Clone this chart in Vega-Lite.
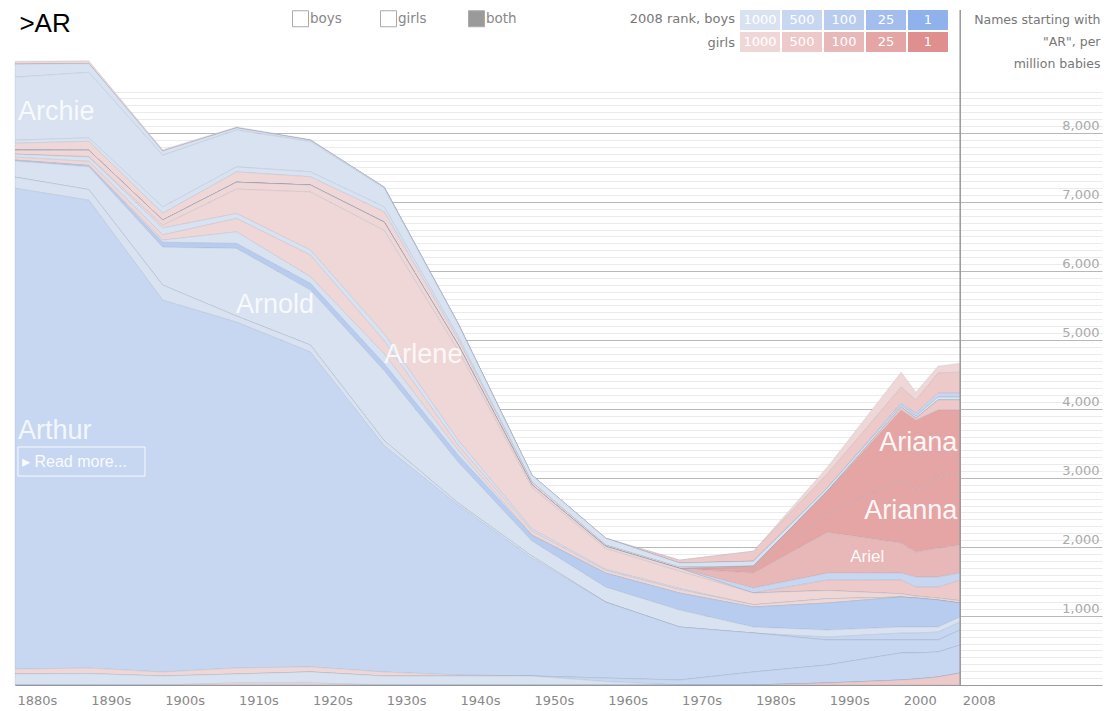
{
"$schema": "https://vega.github.io/schema/vega-lite/v6.json",
"width": 1087, "height": 624,
"autosize": {"type": "none"},
"padding": {"left": 15, "top": 61, "right": 9, "bottom": 26},
"background": "white",
"config": {"view": {"stroke": null}, "font": "DejaVu Sans"},
"resolve": {"axis": {"y": "independent", "x": "independent"}},
"layer": [
{
"data": {"values": [
{"n":"Arabella","t":"F1000","yr":1880,"v":43},{"n":"Arabella","t":"F1000","yr":1890,"v":40},{"n":"Arabella","t":"F1000","yr":1900,"v":20},{"n":"Arabella","t":"F1000","yr":1910,"v":15},{"n":"Arabella","t":"F1000","yr":1920,"v":10},{"n":"Arabella","t":"F1000","yr":1930,"v":5},{"n":"Arabella","t":"F1000","yr":1940,"v":0},{"n":"Arabella","t":"F1000","yr":1950,"v":0},{"n":"Arabella","t":"F1000","yr":1960,"v":0},{"n":"Arabella","t":"F1000","yr":1970,"v":0},{"n":"Arabella","t":"F1000","yr":1980,"v":0},{"n":"Arabella","t":"F1000","yr":1990,"v":100},{"n":"Arabella","t":"F1000","yr":2000,"v":217},{"n":"Arabella","t":"F1000","yr":2002,"v":116},{"n":"Arabella","t":"F1000","yr":2005,"v":101},{"n":"Arabella","t":"F1000","yr":2008,"v":130},
{"n":"Araceli","t":"F500","yr":1880,"v":0},{"n":"Araceli","t":"F500","yr":1890,"v":0},{"n":"Araceli","t":"F500","yr":1900,"v":0},{"n":"Araceli","t":"F500","yr":1910,"v":0},{"n":"Araceli","t":"F500","yr":1920,"v":0},{"n":"Araceli","t":"F500","yr":1930,"v":0},{"n":"Araceli","t":"F500","yr":1940,"v":0},{"n":"Araceli","t":"F500","yr":1950,"v":0},{"n":"Araceli","t":"F500","yr":1960,"v":0},{"n":"Araceli","t":"F500","yr":1970,"v":43},{"n":"Araceli","t":"F500","yr":1980,"v":145},{"n":"Araceli","t":"F500","yr":1990,"v":200},{"n":"Araceli","t":"F500","yr":2000,"v":232},{"n":"Araceli","t":"F500","yr":2002,"v":188},{"n":"Araceli","t":"F500","yr":2005,"v":290},{"n":"Araceli","t":"F500","yr":2008,"v":304},
{"n":"Archer","t":"M500","yr":1880,"v":0},{"n":"Archer","t":"M500","yr":1890,"v":0},{"n":"Archer","t":"M500","yr":1900,"v":0},{"n":"Archer","t":"M500","yr":1910,"v":0},{"n":"Archer","t":"M500","yr":1920,"v":0},{"n":"Archer","t":"M500","yr":1930,"v":0},{"n":"Archer","t":"M500","yr":1940,"v":0},{"n":"Archer","t":"M500","yr":1950,"v":0},{"n":"Archer","t":"M500","yr":1960,"v":0},{"n":"Archer","t":"M500","yr":1970,"v":0},{"n":"Archer","t":"M500","yr":1980,"v":0},{"n":"Archer","t":"M500","yr":1990,"v":0},{"n":"Archer","t":"M500","yr":2000,"v":29},{"n":"Archer","t":"M500","yr":2002,"v":43},{"n":"Archer","t":"M500","yr":2005,"v":58},{"n":"Archer","t":"M500","yr":2008,"v":58},
{"n":"Archibald","t":"M1000","yr":1880,"v":188},{"n":"Archibald","t":"M1000","yr":1890,"v":126},{"n":"Archibald","t":"M1000","yr":1900,"v":60},{"n":"Archibald","t":"M1000","yr":1910,"v":30},{"n":"Archibald","t":"M1000","yr":1920,"v":20},{"n":"Archibald","t":"M1000","yr":1930,"v":15},{"n":"Archibald","t":"M1000","yr":1940,"v":10},{"n":"Archibald","t":"M1000","yr":1950,"v":0},{"n":"Archibald","t":"M1000","yr":1960,"v":0},{"n":"Archibald","t":"M1000","yr":1970,"v":0},{"n":"Archibald","t":"M1000","yr":1980,"v":0},{"n":"Archibald","t":"M1000","yr":1990,"v":0},{"n":"Archibald","t":"M1000","yr":2000,"v":0},{"n":"Archibald","t":"M1000","yr":2002,"v":0},{"n":"Archibald","t":"M1000","yr":2005,"v":0},{"n":"Archibald","t":"M1000","yr":2008,"v":0},
{"n":"Archie","t":"M1000","yr":1880,"v":913},{"n":"Archie","t":"M1000","yr":1890,"v":950},{"n":"Archie","t":"M1000","yr":1900,"v":750},{"n":"Archie","t":"M1000","yr":1910,"v":535},{"n":"Archie","t":"M1000","yr":1920,"v":439},{"n":"Archie","t":"M1000","yr":1930,"v":270},{"n":"Archie","t":"M1000","yr":1940,"v":178},{"n":"Archie","t":"M1000","yr":1950,"v":101},{"n":"Archie","t":"M1000","yr":1960,"v":100},{"n":"Archie","t":"M1000","yr":1970,"v":58},{"n":"Archie","t":"M1000","yr":1980,"v":72},{"n":"Archie","t":"M1000","yr":1990,"v":48},{"n":"Archie","t":"M1000","yr":2000,"v":29},{"n":"Archie","t":"M1000","yr":2002,"v":29},{"n":"Archie","t":"M1000","yr":2005,"v":43},{"n":"Archie","t":"M1000","yr":2008,"v":43},
{"n":"Arden","t":"M1000","yr":1880,"v":45},{"n":"Arden","t":"M1000","yr":1890,"v":50},{"n":"Arden","t":"M1000","yr":1900,"v":90},{"n":"Arden","t":"M1000","yr":1910,"v":72},{"n":"Arden","t":"M1000","yr":1920,"v":72},{"n":"Arden","t":"M1000","yr":1930,"v":72},{"n":"Arden","t":"M1000","yr":1940,"v":43},{"n":"Arden","t":"M1000","yr":1950,"v":0},{"n":"Arden","t":"M1000","yr":1960,"v":0},{"n":"Arden","t":"M1000","yr":1970,"v":0},{"n":"Arden","t":"M1000","yr":1980,"v":0},{"n":"Arden","t":"M1000","yr":1990,"v":0},{"n":"Arden","t":"M1000","yr":2000,"v":0},{"n":"Arden","t":"M1000","yr":2002,"v":0},{"n":"Arden","t":"M1000","yr":2005,"v":0},{"n":"Arden","t":"M1000","yr":2008,"v":0},
{"n":"Ardith","t":"F1000","yr":1880,"v":100},{"n":"Ardith","t":"F1000","yr":1890,"v":130},{"n":"Ardith","t":"F1000","yr":1900,"v":100},{"n":"Ardith","t":"F1000","yr":1910,"v":150},{"n":"Ardith","t":"F1000","yr":1920,"v":120},{"n":"Ardith","t":"F1000","yr":1930,"v":150},{"n":"Ardith","t":"F1000","yr":1940,"v":80},{"n":"Ardith","t":"F1000","yr":1950,"v":40},{"n":"Ardith","t":"F1000","yr":1960,"v":20},{"n":"Ardith","t":"F1000","yr":1970,"v":20},{"n":"Ardith","t":"F1000","yr":1980,"v":0},{"n":"Ardith","t":"F1000","yr":1990,"v":0},{"n":"Ardith","t":"F1000","yr":2000,"v":0},{"n":"Ardith","t":"F1000","yr":2002,"v":0},{"n":"Ardith","t":"F1000","yr":2005,"v":0},{"n":"Ardith","t":"F1000","yr":2008,"v":0},
{"n":"Aria","t":"F500","yr":1880,"v":0},{"n":"Aria","t":"F500","yr":1890,"v":0},{"n":"Aria","t":"F500","yr":1900,"v":0},{"n":"Aria","t":"F500","yr":1910,"v":0},{"n":"Aria","t":"F500","yr":1920,"v":0},{"n":"Aria","t":"F500","yr":1930,"v":0},{"n":"Aria","t":"F500","yr":1940,"v":0},{"n":"Aria","t":"F500","yr":1950,"v":0},{"n":"Aria","t":"F500","yr":1960,"v":0},{"n":"Aria","t":"F500","yr":1970,"v":0},{"n":"Aria","t":"F500","yr":1980,"v":0},{"n":"Aria","t":"F500","yr":1990,"v":0},{"n":"Aria","t":"F500","yr":2000,"v":43},{"n":"Aria","t":"F500","yr":2002,"v":29},{"n":"Aria","t":"F500","yr":2005,"v":145},{"n":"Aria","t":"F500","yr":2008,"v":145},
{"n":"Ariana","t":"F25","yr":1880,"v":0},{"n":"Ariana","t":"F25","yr":1890,"v":0},{"n":"Ariana","t":"F25","yr":1900,"v":0},{"n":"Ariana","t":"F25","yr":1910,"v":0},{"n":"Ariana","t":"F25","yr":1920,"v":0},{"n":"Ariana","t":"F25","yr":1930,"v":0},{"n":"Ariana","t":"F25","yr":1940,"v":0},{"n":"Ariana","t":"F25","yr":1950,"v":0},{"n":"Ariana","t":"F25","yr":1960,"v":0},{"n":"Ariana","t":"F25","yr":1970,"v":0},{"n":"Ariana","t":"F25","yr":1980,"v":50},{"n":"Ariana","t":"F25","yr":1990,"v":319},{"n":"Ariana","t":"F25","yr":2000,"v":1014},{"n":"Ariana","t":"F25","yr":2002,"v":1014},{"n":"Ariana","t":"F25","yr":2005,"v":971},{"n":"Ariana","t":"F25","yr":2008,"v":913},
{"n":"Arianna","t":"F25","yr":1880,"v":0},{"n":"Arianna","t":"F25","yr":1890,"v":0},{"n":"Arianna","t":"F25","yr":1900,"v":0},{"n":"Arianna","t":"F25","yr":1910,"v":0},{"n":"Arianna","t":"F25","yr":1920,"v":0},{"n":"Arianna","t":"F25","yr":1930,"v":0},{"n":"Arianna","t":"F25","yr":1940,"v":0},{"n":"Arianna","t":"F25","yr":1950,"v":0},{"n":"Arianna","t":"F25","yr":1960,"v":0},{"n":"Arianna","t":"F25","yr":1970,"v":0},{"n":"Arianna","t":"F25","yr":1980,"v":50},{"n":"Arianna","t":"F25","yr":1990,"v":275},{"n":"Arianna","t":"F25","yr":2000,"v":913},{"n":"Arianna","t":"F25","yr":2002,"v":898},{"n":"Arianna","t":"F25","yr":2005,"v":1029},{"n":"Arianna","t":"F25","yr":2008,"v":1043},
{"n":"Ariel","t":"F100","yr":1880,"v":0},{"n":"Ariel","t":"F100","yr":1890,"v":0},{"n":"Ariel","t":"F100","yr":1900,"v":0},{"n":"Ariel","t":"F100","yr":1910,"v":0},{"n":"Ariel","t":"F100","yr":1920,"v":0},{"n":"Ariel","t":"F100","yr":1930,"v":0},{"n":"Ariel","t":"F100","yr":1940,"v":0},{"n":"Ariel","t":"F100","yr":1950,"v":0},{"n":"Ariel","t":"F100","yr":1960,"v":0},{"n":"Ariel","t":"F100","yr":1970,"v":0},{"n":"Ariel","t":"F100","yr":1980,"v":217},{"n":"Ariel","t":"F100","yr":1990,"v":594},{"n":"Ariel","t":"F100","yr":2000,"v":435},{"n":"Ariel","t":"F100","yr":2002,"v":362},{"n":"Ariel","t":"F100","yr":2005,"v":420},{"n":"Ariel","t":"F100","yr":2008,"v":406},
{"n":"Ariel (boy)","t":"M500","yr":1880,"v":0},{"n":"Ariel (boy)","t":"M500","yr":1890,"v":0},{"n":"Ariel (boy)","t":"M500","yr":1900,"v":0},{"n":"Ariel (boy)","t":"M500","yr":1910,"v":0},{"n":"Ariel (boy)","t":"M500","yr":1920,"v":0},{"n":"Ariel (boy)","t":"M500","yr":1930,"v":0},{"n":"Ariel (boy)","t":"M500","yr":1940,"v":0},{"n":"Ariel (boy)","t":"M500","yr":1950,"v":0},{"n":"Ariel (boy)","t":"M500","yr":1960,"v":0},{"n":"Ariel (boy)","t":"M500","yr":1970,"v":0},{"n":"Ariel (boy)","t":"M500","yr":1980,"v":72},{"n":"Ariel (boy)","t":"M500","yr":1990,"v":101},{"n":"Ariel (boy)","t":"M500","yr":2000,"v":101},{"n":"Ariel (boy)","t":"M500","yr":2002,"v":145},{"n":"Ariel (boy)","t":"M500","yr":2005,"v":145},{"n":"Ariel (boy)","t":"M500","yr":2008,"v":101},
{"n":"Arielle","t":"F500","yr":1880,"v":0},{"n":"Arielle","t":"F500","yr":1890,"v":0},{"n":"Arielle","t":"F500","yr":1900,"v":0},{"n":"Arielle","t":"F500","yr":1910,"v":0},{"n":"Arielle","t":"F500","yr":1920,"v":0},{"n":"Arielle","t":"F500","yr":1930,"v":0},{"n":"Arielle","t":"F500","yr":1940,"v":0},{"n":"Arielle","t":"F500","yr":1950,"v":0},{"n":"Arielle","t":"F500","yr":1960,"v":0},{"n":"Arielle","t":"F500","yr":1970,"v":0},{"n":"Arielle","t":"F500","yr":1980,"v":0},{"n":"Arielle","t":"F500","yr":1990,"v":150},{"n":"Arielle","t":"F500","yr":2000,"v":200},{"n":"Arielle","t":"F500","yr":2002,"v":130},{"n":"Arielle","t":"F500","yr":2005,"v":160},{"n":"Arielle","t":"F500","yr":2008,"v":300},
{"n":"Arla","t":"F1000","yr":1880,"v":58},{"n":"Arla","t":"F1000","yr":1890,"v":90},{"n":"Arla","t":"F1000","yr":1900,"v":74},{"n":"Arla","t":"F1000","yr":1910,"v":100},{"n":"Arla","t":"F1000","yr":1920,"v":100},{"n":"Arla","t":"F1000","yr":1930,"v":120},{"n":"Arla","t":"F1000","yr":1940,"v":80},{"n":"Arla","t":"F1000","yr":1950,"v":40},{"n":"Arla","t":"F1000","yr":1960,"v":30},{"n":"Arla","t":"F1000","yr":1970,"v":40},{"n":"Arla","t":"F1000","yr":1980,"v":0},{"n":"Arla","t":"F1000","yr":1990,"v":0},{"n":"Arla","t":"F1000","yr":2000,"v":0},{"n":"Arla","t":"F1000","yr":2002,"v":0},{"n":"Arla","t":"F1000","yr":2005,"v":0},{"n":"Arla","t":"F1000","yr":2008,"v":0},
{"n":"Arlene","t":"F1000","yr":1880,"v":0},{"n":"Arlene","t":"F1000","yr":1890,"v":10},{"n":"Arlene","t":"F1000","yr":1900,"v":40},{"n":"Arlene","t":"F1000","yr":1910,"v":353},{"n":"Arlene","t":"F1000","yr":1920,"v":842},{"n":"Arlene","t":"F1000","yr":1930,"v":1498},{"n":"Arlene","t":"F1000","yr":1940,"v":1303},{"n":"Arlene","t":"F1000","yr":1950,"v":600},{"n":"Arlene","t":"F1000","yr":1960,"v":300},{"n":"Arlene","t":"F1000","yr":1970,"v":250},{"n":"Arlene","t":"F1000","yr":1980,"v":170},{"n":"Arlene","t":"F1000","yr":1990,"v":120},{"n":"Arlene","t":"F1000","yr":2000,"v":46},{"n":"Arlene","t":"F1000","yr":2002,"v":29},{"n":"Arlene","t":"F1000","yr":2005,"v":28},{"n":"Arlene","t":"F1000","yr":2008,"v":33},
{"n":"Arlie","t":"M1000","yr":1880,"v":43},{"n":"Arlie","t":"M1000","yr":1890,"v":60},{"n":"Arlie","t":"M1000","yr":1900,"v":100},{"n":"Arlie","t":"M1000","yr":1910,"v":72},{"n":"Arlie","t":"M1000","yr":1920,"v":72},{"n":"Arlie","t":"M1000","yr":1930,"v":101},{"n":"Arlie","t":"M1000","yr":1940,"v":72},{"n":"Arlie","t":"M1000","yr":1950,"v":30},{"n":"Arlie","t":"M1000","yr":1960,"v":16},{"n":"Arlie","t":"M1000","yr":1970,"v":17},{"n":"Arlie","t":"M1000","yr":1980,"v":0},{"n":"Arlie","t":"M1000","yr":1990,"v":0},{"n":"Arlie","t":"M1000","yr":2000,"v":0},{"n":"Arlie","t":"M1000","yr":2002,"v":0},{"n":"Arlie","t":"M1000","yr":2005,"v":0},{"n":"Arlie","t":"M1000","yr":2008,"v":0},
{"n":"Arline","t":"F1000","yr":1880,"v":43},{"n":"Arline","t":"F1000","yr":1890,"v":60},{"n":"Arline","t":"F1000","yr":1900,"v":76},{"n":"Arline","t":"F1000","yr":1910,"v":194},{"n":"Arline","t":"F1000","yr":1920,"v":314},{"n":"Arline","t":"F1000","yr":1930,"v":188},{"n":"Arline","t":"F1000","yr":1940,"v":72},{"n":"Arline","t":"F1000","yr":1950,"v":58},{"n":"Arline","t":"F1000","yr":1960,"v":40},{"n":"Arline","t":"F1000","yr":1970,"v":50},{"n":"Arline","t":"F1000","yr":1980,"v":33},{"n":"Arline","t":"F1000","yr":1990,"v":63},{"n":"Arline","t":"F1000","yr":2000,"v":0},{"n":"Arline","t":"F1000","yr":2002,"v":0},{"n":"Arline","t":"F1000","yr":2005,"v":0},{"n":"Arline","t":"F1000","yr":2008,"v":0},
{"n":"Armand","t":"M1000","yr":1880,"v":0},{"n":"Armand","t":"M1000","yr":1890,"v":0},{"n":"Armand","t":"M1000","yr":1900,"v":30},{"n":"Armand","t":"M1000","yr":1910,"v":168},{"n":"Armand","t":"M1000","yr":1920,"v":96},{"n":"Armand","t":"M1000","yr":1930,"v":145},{"n":"Armand","t":"M1000","yr":1940,"v":72},{"n":"Armand","t":"M1000","yr":1950,"v":0},{"n":"Armand","t":"M1000","yr":1960,"v":0},{"n":"Armand","t":"M1000","yr":1970,"v":0},{"n":"Armand","t":"M1000","yr":1980,"v":0},{"n":"Armand","t":"M1000","yr":1990,"v":0},{"n":"Armand","t":"M1000","yr":2000,"v":0},{"n":"Armand","t":"M1000","yr":2002,"v":0},{"n":"Armand","t":"M1000","yr":2005,"v":0},{"n":"Armand","t":"M1000","yr":2008,"v":0},
{"n":"Armando","t":"M100","yr":1880,"v":15},{"n":"Armando","t":"M100","yr":1890,"v":20},{"n":"Armando","t":"M100","yr":1900,"v":72},{"n":"Armando","t":"M100","yr":1910,"v":72},{"n":"Armando","t":"M100","yr":1920,"v":97},{"n":"Armando","t":"M100","yr":1930,"v":101},{"n":"Armando","t":"M100","yr":1940,"v":101},{"n":"Armando","t":"M100","yr":1950,"v":87},{"n":"Armando","t":"M100","yr":1960,"v":203},{"n":"Armando","t":"M100","yr":1970,"v":246},{"n":"Armando","t":"M100","yr":1980,"v":290},{"n":"Armando","t":"M100","yr":1990,"v":391},{"n":"Armando","t":"M100","yr":2000,"v":435},{"n":"Armando","t":"M100","yr":2002,"v":420},{"n":"Armando","t":"M100","yr":2005,"v":391},{"n":"Armando","t":"M100","yr":2008,"v":203},
{"n":"Arnold","t":"M1000","yr":1880,"v":232},{"n":"Arnold","t":"M1000","yr":1890,"v":330},{"n":"Arnold","t":"M1000","yr":1900,"v":550},{"n":"Arnold","t":"M1000","yr":1910,"v":981},{"n":"Arnold","t":"M1000","yr":1920,"v":797},{"n":"Arnold","t":"M1000","yr":1930,"v":1014},{"n":"Arnold","t":"M1000","yr":1940,"v":594},{"n":"Arnold","t":"M1000","yr":1950,"v":217},{"n":"Arnold","t":"M1000","yr":1960,"v":217},{"n":"Arnold","t":"M1000","yr":1970,"v":246},{"n":"Arnold","t":"M1000","yr":1980,"v":87},{"n":"Arnold","t":"M1000","yr":1990,"v":101},{"n":"Arnold","t":"M1000","yr":2000,"v":87},{"n":"Arnold","t":"M1000","yr":2002,"v":87},{"n":"Arnold","t":"M1000","yr":2005,"v":72},{"n":"Arnold","t":"M1000","yr":2008,"v":72},
{"n":"Aron","t":"M500","yr":1880,"v":0},{"n":"Aron","t":"M500","yr":1890,"v":0},{"n":"Aron","t":"M500","yr":1900,"v":0},{"n":"Aron","t":"M500","yr":1910,"v":0},{"n":"Aron","t":"M500","yr":1920,"v":0},{"n":"Aron","t":"M500","yr":1930,"v":0},{"n":"Aron","t":"M500","yr":1940,"v":0},{"n":"Aron","t":"M500","yr":1950,"v":0},{"n":"Aron","t":"M500","yr":1960,"v":0},{"n":"Aron","t":"M500","yr":1970,"v":0},{"n":"Aron","t":"M500","yr":1980,"v":0},{"n":"Aron","t":"M500","yr":1990,"v":43},{"n":"Aron","t":"M500","yr":2000,"v":101},{"n":"Aron","t":"M500","yr":2002,"v":101},{"n":"Aron","t":"M500","yr":2005,"v":116},{"n":"Aron","t":"M500","yr":2008,"v":116},
{"n":"Art","t":"M1000","yr":1880,"v":160},{"n":"Art","t":"M1000","yr":1890,"v":154},{"n":"Art","t":"M1000","yr":1900,"v":217},{"n":"Art","t":"M1000","yr":1910,"v":87},{"n":"Art","t":"M1000","yr":1920,"v":101},{"n":"Art","t":"M1000","yr":1930,"v":72},{"n":"Art","t":"M1000","yr":1940,"v":29},{"n":"Art","t":"M1000","yr":1950,"v":29},{"n":"Art","t":"M1000","yr":1960,"v":0},{"n":"Art","t":"M1000","yr":1970,"v":0},{"n":"Art","t":"M1000","yr":1980,"v":0},{"n":"Art","t":"M1000","yr":1990,"v":0},{"n":"Art","t":"M1000","yr":2000,"v":0},{"n":"Art","t":"M1000","yr":2002,"v":0},{"n":"Art","t":"M1000","yr":2005,"v":0},{"n":"Art","t":"M1000","yr":2008,"v":0},
{"n":"Arthur","t":"M500","yr":1880,"v":6970},{"n":"Arthur","t":"M500","yr":1890,"v":6780},{"n":"Arthur","t":"M500","yr":1900,"v":5390},{"n":"Arthur","t":"M500","yr":1910,"v":5013},{"n":"Arthur","t":"M500","yr":1920,"v":4564},{"n":"Arthur","t":"M500","yr":1930,"v":3280},{"n":"Arthur","t":"M500","yr":1940,"v":2463},{"n":"Arthur","t":"M500","yr":1950,"v":1710},{"n":"Arthur","t":"M500","yr":1960,"v":1101},{"n":"Arthur","t":"M500","yr":1970,"v":768},{"n":"Arthur","t":"M500","yr":1980,"v":565},{"n":"Arthur","t":"M500","yr":1990,"v":362},{"n":"Arthur","t":"M500","yr":2000,"v":188},{"n":"Arthur","t":"M500","yr":2002,"v":188},{"n":"Arthur","t":"M500","yr":2005,"v":174},{"n":"Arthur","t":"M500","yr":2008,"v":217},
{"n":"Artie","t":"F1000","yr":1880,"v":70},{"n":"Artie","t":"F1000","yr":1890,"v":80},{"n":"Artie","t":"F1000","yr":1900,"v":58},{"n":"Artie","t":"F1000","yr":1910,"v":87},{"n":"Artie","t":"F1000","yr":1920,"v":72},{"n":"Artie","t":"F1000","yr":1930,"v":58},{"n":"Artie","t":"F1000","yr":1940,"v":15},{"n":"Artie","t":"F1000","yr":1950,"v":0},{"n":"Artie","t":"F1000","yr":1960,"v":0},{"n":"Artie","t":"F1000","yr":1970,"v":0},{"n":"Artie","t":"F1000","yr":1980,"v":0},{"n":"Artie","t":"F1000","yr":1990,"v":0},{"n":"Artie","t":"F1000","yr":2000,"v":0},{"n":"Artie","t":"F1000","yr":2002,"v":0},{"n":"Artie","t":"F1000","yr":2005,"v":0},{"n":"Artie","t":"F1000","yr":2008,"v":0},
{"n":"Arturo","t":"M500","yr":1880,"v":0},{"n":"Arturo","t":"M500","yr":1890,"v":0},{"n":"Arturo","t":"M500","yr":1900,"v":0},{"n":"Arturo","t":"M500","yr":1910,"v":0},{"n":"Arturo","t":"M500","yr":1920,"v":0},{"n":"Arturo","t":"M500","yr":1930,"v":0},{"n":"Arturo","t":"M500","yr":1940,"v":0},{"n":"Arturo","t":"M500","yr":1950,"v":0},{"n":"Arturo","t":"M500","yr":1960,"v":50},{"n":"Arturo","t":"M500","yr":1970,"v":72},{"n":"Arturo","t":"M500","yr":1980,"v":188},{"n":"Arturo","t":"M500","yr":1990,"v":261},{"n":"Arturo","t":"M500","yr":2000,"v":392},{"n":"Arturo","t":"M500","yr":2002,"v":377},{"n":"Arturo","t":"M500","yr":2005,"v":362},{"n":"Arturo","t":"M500","yr":2008,"v":406},
{"n":"Arvid","t":"M1000","yr":1880,"v":160},{"n":"Arvid","t":"M1000","yr":1890,"v":165},{"n":"Arvid","t":"M1000","yr":1900,"v":130},{"n":"Arvid","t":"M1000","yr":1910,"v":130},{"n":"Arvid","t":"M1000","yr":1920,"v":160},{"n":"Arvid","t":"M1000","yr":1930,"v":130},{"n":"Arvid","t":"M1000","yr":1940,"v":130},{"n":"Arvid","t":"M1000","yr":1950,"v":130},{"n":"Arvid","t":"M1000","yr":1960,"v":50},{"n":"Arvid","t":"M1000","yr":1970,"v":0},{"n":"Arvid","t":"M1000","yr":1980,"v":0},{"n":"Arvid","t":"M1000","yr":1990,"v":0},{"n":"Arvid","t":"M1000","yr":2000,"v":0},{"n":"Arvid","t":"M1000","yr":2002,"v":0},{"n":"Arvid","t":"M1000","yr":2005,"v":0},{"n":"Arvid","t":"M1000","yr":2008,"v":0},
{"n":"Arvilla","t":"F1000","yr":1880,"v":0},{"n":"Arvilla","t":"F1000","yr":1890,"v":0},{"n":"Arvilla","t":"F1000","yr":1900,"v":0},{"n":"Arvilla","t":"F1000","yr":1910,"v":29},{"n":"Arvilla","t":"F1000","yr":1920,"v":30},{"n":"Arvilla","t":"F1000","yr":1930,"v":0},{"n":"Arvilla","t":"F1000","yr":1940,"v":0},{"n":"Arvilla","t":"F1000","yr":1950,"v":0},{"n":"Arvilla","t":"F1000","yr":1960,"v":0},{"n":"Arvilla","t":"F1000","yr":1970,"v":0},{"n":"Arvilla","t":"F1000","yr":1980,"v":0},{"n":"Arvilla","t":"F1000","yr":1990,"v":0},{"n":"Arvilla","t":"F1000","yr":2000,"v":0},{"n":"Arvilla","t":"F1000","yr":2002,"v":0},{"n":"Arvilla","t":"F1000","yr":2005,"v":0},{"n":"Arvilla","t":"F1000","yr":2008,"v":0},
{"n":"Aryanna","t":"F500","yr":1880,"v":0},{"n":"Aryanna","t":"F500","yr":1890,"v":0},{"n":"Aryanna","t":"F500","yr":1900,"v":0},{"n":"Aryanna","t":"F500","yr":1910,"v":0},{"n":"Aryanna","t":"F500","yr":1920,"v":0},{"n":"Aryanna","t":"F500","yr":1930,"v":0},{"n":"Aryanna","t":"F500","yr":1940,"v":0},{"n":"Aryanna","t":"F500","yr":1950,"v":0},{"n":"Aryanna","t":"F500","yr":1960,"v":0},{"n":"Aryanna","t":"F500","yr":1970,"v":0},{"n":"Aryanna","t":"F500","yr":1980,"v":0},{"n":"Aryanna","t":"F500","yr":1990,"v":29},{"n":"Aryanna","t":"F500","yr":2000,"v":72},{"n":"Aryanna","t":"F500","yr":2002,"v":87},{"n":"Aryanna","t":"F500","yr":2005,"v":116},{"n":"Aryanna","t":"F500","yr":2008,"v":174}
]},
"mark": {"type": "area", "interpolate": "linear", "stroke": "#8e9ab0", "strokeWidth": 0.5, "strokeOpacity": 0.4},
"encoding": {
"x": {"field": "yr", "type": "quantitative", "scale": {"domain": [1880, 2027.2], "nice": false, "zero": false},
 "axis": {"values": [1880,1890,1900,1910,1920,1930,1940,1950,1960,1970,1980,1990,2000,2008], "labelExpr": "datum.value >= 2000 ? '' + datum.value : datum.value + 's'", "labelAlign": "left", "labelOffset": 2, "labelPadding": 9, "labelFontSize": 13, "labelColor": "#888", "labelFlush": false, "labelOverlap": false, "ticks": false, "grid": false, "domainColor": "#999", "domainWidth": 1, "title": null}},
"y": {"field": "v", "type": "quantitative", "stack": "zero", "scale": {"domain": [0, 9043], "nice": false},
 "axis": {"orient": "right", "values": [1000,2000,3000,4000,5000,6000,7000,8000], "labelExpr": "format(datum.value, ',')", "grid": true, "gridColor": "#b8b8b8", "ticks": false, "domain": false, "labelAlign": "right", "labelBaseline": "bottom", "labelPadding": -3, "labelFontSize": 13, "labelColor": "#aaa", "zindex": 0,
  "title": ["Names starting with", "\"AR\", per", "million babies"], "titleAngle": 0, "titleAlign": "right", "titleBaseline": "top", "titleX": -2, "titleY": -48, "titleFontSize": 12.5, "titleFontWeight": "normal", "titleColor": "#777", "titleLineHeight": 22}},
"color": {"field": "t", "type": "nominal",
 "scale": {"domain": ["M1000","M500","M100","M25","M1","F1000","F500","F100","F25","F1"], "range": ["#d9e2f1","#c7d7f2","#b8ccf0","#a3bdee","#8fb1ec","#efd7d7","#edc9c9","#e8b7b7","#e5a5a5","#e08f8f"]},
 "legend": {"orient": "none", "legendX": 735, "legendY": -51, "direction": "horizontal", "columns": 5, "padding": 0, "title": null,
  "symbolType": "M-2,-1H2V1H-2Z", "symbolSize": 400, "symbolStrokeWidth": 0, "symbolOpacity": 1,
  "labelExpr": "substring(datum.label, 1)", "labelAlign": "center", "labelBaseline": "middle", "labelOffset": -10, "labelColor": "white", "labelFontSize": 13,
  "columnPadding": 2, "rowPadding": 2}},
"detail": {"field": "n", "type": "nominal"},
"order": {"field": "n", "type": "nominal", "sort": "descending"}
}
},
{
"data": {"values": [{}]},
"mark": {"type": "rule", "color": "#999", "strokeWidth": 1.5},
"encoding": {
"x": {"datum": 2008, "type": "quantitative", "axis": null},
"y": {"datum": 0, "type": "quantitative", "scale": {"domain": [0, 9043], "nice": false},
 "axis": {"orient": "left", "values": [100,200,300,400,500,600,700,800,900,1100,1200,1300,1400,1500,1600,1700,1800,1900,2100,2200,2300,2400,2500,2600,2700,2800,2900,3100,3200,3300,3400,3500,3600,3700,3800,3900,4100,4200,4300,4400,4500,4600,4700,4800,4900,5100,5200,5300,5400,5500,5600,5700,5800,5900,6100,6200,6300,6400,6500,6600,6700,6800,6900,7100,7200,7300,7400,7500,7600,7700,7800,7900,8100,8200,8300,8400,8500,8600], "grid": true, "gridColor": "#ebebeb", "labels": false, "ticks": false, "domain": false, "title": null, "zindex": 0}},
"y2": {"datum": 9781}
}
},
{
"data": {"values": [{}]},
"mark": {"type": "rect", "filled": false, "stroke": "white", "strokeWidth": 1, "strokeOpacity": 0.85},
"encoding": {
"x": {"datum": 1880.4, "axis": null}, "x2": {"datum": 1897.6},
"y": {"datum": 3449, "axis": null}, "y2": {"datum": 3028}
}
},
{
"data": {"values": [{}]},
"mark": {"type": "text", "align": "left", "baseline": "middle", "font": "Liberation Sans", "fontSize": 27, "fill": "white", "opacity": 0.8},
"encoding": {"x": {"datum": 1880.4, "axis": null}, "y": {"datum": 8303, "axis": null}, "text": {"value": "Archie"}}
},
{
"data": {"values": [{}]},
"mark": {"type": "text", "align": "left", "baseline": "middle", "font": "Liberation Sans", "fontSize": 27, "fill": "white", "opacity": 0.8},
"encoding": {"x": {"datum": 1880.4, "axis": null}, "y": {"datum": 3680, "axis": null}, "text": {"value": "Arthur"}}
},
{
"data": {"values": [{}]},
"mark": {"type": "text", "align": "left", "baseline": "middle", "font": "Liberation Sans", "fontSize": 16, "fill": "white", "opacity": 0.9},
"encoding": {"x": {"datum": 1880.95, "axis": null}, "y": {"datum": 3231, "axis": null}, "text": {"value": "▸ Read more..."}}
},
{
"data": {"values": [{}]},
"mark": {"type": "text", "align": "center", "baseline": "middle", "font": "Liberation Sans", "fontSize": 27, "fill": "white", "opacity": 0.8},
"encoding": {"x": {"datum": 1915.2, "axis": null}, "y": {"datum": 5506, "axis": null}, "text": {"value": "Arnold"}}
},
{
"data": {"values": [{}]},
"mark": {"type": "text", "align": "center", "baseline": "middle", "font": "Liberation Sans", "fontSize": 27, "fill": "white", "opacity": 0.8},
"encoding": {"x": {"datum": 1935.3, "axis": null}, "y": {"datum": 4782, "axis": null}, "text": {"value": "Arlene"}}
},
{
"data": {"values": [{}]},
"mark": {"type": "text", "align": "right", "baseline": "middle", "font": "Liberation Sans", "fontSize": 27, "fill": "white", "opacity": 0.92},
"encoding": {"x": {"datum": 2007.6, "axis": null}, "y": {"datum": 3507, "axis": null}, "text": {"value": "Ariana"}}
},
{
"data": {"values": [{}]},
"mark": {"type": "text", "align": "right", "baseline": "middle", "font": "Liberation Sans", "fontSize": 27, "fill": "white", "opacity": 0.92},
"encoding": {"x": {"datum": 2007.6, "axis": null}, "y": {"datum": 2521, "axis": null}, "text": {"value": "Arianna"}}
},
{
"data": {"values": [{}]},
"mark": {"type": "text", "align": "center", "baseline": "middle", "font": "Liberation Sans", "fontSize": 17, "fill": "white", "opacity": 0.92},
"encoding": {"x": {"datum": 1995.4, "axis": null}, "y": {"datum": 1855, "axis": null}, "text": {"value": "Ariel"}}
},
{
"data": {"values": [{}]},
"mark": {"type": "text", "align": "left", "baseline": "middle", "font": "Liberation Sans", "fontSize": 26, "fill": "#000"},
"encoding": {"x": {"datum": 1880.6, "axis": null}, "y": {"datum": 9578, "axis": null}, "text": {"value": ">AR"}}
},
{
"data": {"values": [{}]},
"mark": {"type": "text", "align": "right", "baseline": "middle", "fontSize": 13, "fill": "#777"},
"encoding": {"x": {"datum": 1977.5, "axis": null}, "y": {"datum": 9650, "axis": null}, "text": {"value": "2008 rank, boys"}}
},
{
"data": {"values": [{}]},
"mark": {"type": "text", "align": "right", "baseline": "middle", "fontSize": 13, "fill": "#777"},
"encoding": {"x": {"datum": 1977.5, "axis": null}, "y": {"datum": 9303, "axis": null}, "text": {"value": "girls"}}
},
{
"data": {"values": [{"opt": "boys"}, {"opt": "girls"}, {"opt": "both"}]},
"mark": {"type": "point", "filled": true, "opacity": 0},
"encoding": {
"fill": {"field": "opt", "type": "nominal",
 "scale": {"domain": ["boys", "girls", "both"], "range": ["#ffffff", "#ffffff", "#9a9a9a"]},
 "legend": {"orient": "none", "legendX": 277, "legendY": -51, "direction": "horizontal", "columns": 3, "title": null, "padding": 0,
  "symbolType": "square", "symbolSize": 256, "symbolStrokeColor": "#aaa", "symbolStrokeWidth": 1, "symbolOpacity": 1,
  "labelFontSize": 13.5, "labelColor": "#888", "labelOffset": 1, "columnPadding": 36, "gridAlign": "all"}}
}
}
]
}
